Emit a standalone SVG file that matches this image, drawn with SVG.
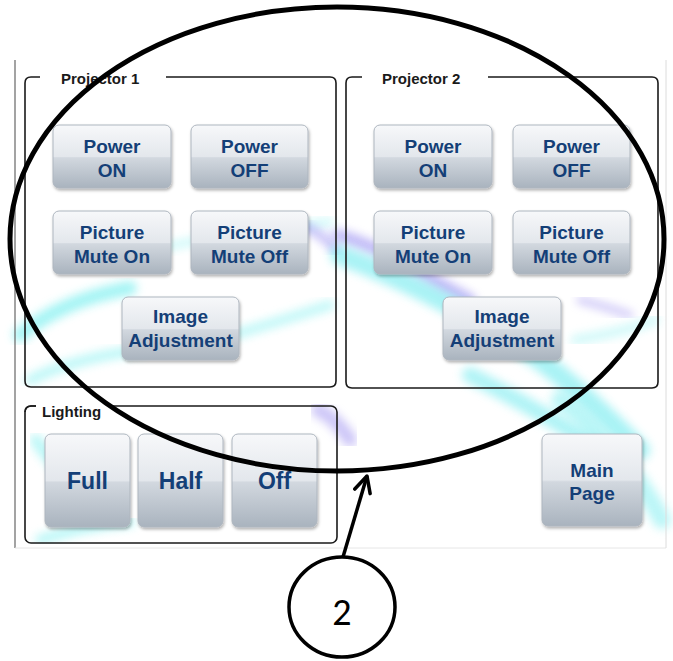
<svg xmlns="http://www.w3.org/2000/svg" width="673" height="661" viewBox="0 0 673 661">
<defs>
<linearGradient id="btn" x1="0" y1="0" x2="0" y2="1">
<stop offset="0" stop-color="#f7f8fa"/>
<stop offset="0.5" stop-color="#e3e7ec"/>
<stop offset="0.52" stop-color="#d2d8df"/>
<stop offset="1" stop-color="#a9b3be"/>
</linearGradient>
<filter id="blur" x="-20%" y="-20%" width="140%" height="140%"><feGaussianBlur stdDeviation="5"/></filter>
<filter id="sh" x="-10%" y="-10%" width="130%" height="130%"><feDropShadow dx="1" dy="2" stdDeviation="1.5" flood-color="#000" flood-opacity="0.3"/></filter>
<marker id="open" viewBox="0 0 20 20" refX="18" refY="10" markerWidth="20" markerHeight="20" markerUnits="userSpaceOnUse" orient="auto">
<path d="M2,2 L18,10 L2,18" fill="none" stroke="#000" stroke-width="3.5" stroke-linecap="round" stroke-linejoin="round"/>
</marker>
<style>
.panel{fill:none;stroke:#1a1a1a;stroke-width:1.6}
.b{fill:url(#btn);stroke:#aeb6bf;stroke-width:1;filter:url(#sh)}
.bt{font-family:"Liberation Sans",Arial,sans-serif;font-weight:bold;font-size:19px;fill:#143f77;text-anchor:middle}
.bl{font-size:23px}
.pt{font-family:"Liberation Sans",Arial,sans-serif;font-weight:bold;font-size:15px;fill:#1a1a1a}
.sw{fill:none;stroke-linecap:round;filter:url(#blur)}
</style>
</defs>
<rect width="673" height="661" fill="#fff"/>
<g id="background">
<path class="sw" d="M20,335 C50,310 90,295 130,288" stroke="#7ff0f0" stroke-width="14" opacity="0.7"/>
<path class="sw" d="M30,380 C60,365 100,355 140,350" stroke="#8ff2f2" stroke-width="10" opacity="0.6"/>
<path class="sw" d="M200,345 C250,330 290,318 330,305" stroke="#8ff2f2" stroke-width="10" opacity="0.55"/>
<path class="sw" d="M150,250 C220,235 280,228 330,222" stroke="#9ff4f4" stroke-width="8" opacity="0.5"/>
<path class="sw" d="M300,225 C315,230 328,240 336,250" stroke="#8a7ef0" stroke-width="9" opacity="0.5"/>
<path class="sw" d="M36,440 C45,455 55,465 65,475" stroke="#7ff0f0" stroke-width="12" opacity="0.55"/>
<path class="sw" d="M40,540 C70,530 100,525 130,522" stroke="#7ff0f0" stroke-width="10" opacity="0.55"/>
<path class="sw" d="M318,410 C330,415 340,425 350,440" stroke="#9a8cf0" stroke-width="14" opacity="0.5"/>
<path class="sw" d="M338,235 C390,250 430,280 470,300" stroke="#8a7ef0" stroke-width="12" opacity="0.55"/>
<path class="sw" d="M340,255 C420,285 480,320 540,360 C580,390 610,420 640,450" stroke="#7cecf0" stroke-width="20" opacity="0.65"/>
<path class="sw" d="M470,375 C520,400 570,430 610,455" stroke="#7cecf0" stroke-width="16" opacity="0.6"/>
<path class="sw" d="M560,400 C600,430 635,470 662,520" stroke="#8ef0f2" stroke-width="18" opacity="0.6"/>
<path class="sw" d="M580,300 C600,305 615,310 630,315" stroke="#9a8cf0" stroke-width="7" opacity="0.5"/>
<path class="sw" d="M575,340 C605,335 630,330 655,320" stroke="#9ef3f3" stroke-width="9" opacity="0.5"/>
</g>
<g id="frame">
<line x1="15" y1="60" x2="15" y2="548" stroke="#666" stroke-width="1.2"/>
<line x1="15" y1="548" x2="666" y2="548" stroke="#e6e6e6" stroke-width="1"/>
<line x1="666" y1="60" x2="666" y2="548" stroke="#dcdcdc" stroke-width="1"/>
</g>
<g id="projector1">
<path class="panel" d="M40,77 H31 Q25,77 25,83 V381 Q25,387 31,387 H330 Q336,387 336,381 V83 Q336,77 330,77 H166"/>
<text class="pt" x="61" y="84">Projector 1</text>
</g>
<g id="p1-power-on"><rect class="b" x="53" y="125" width="118" height="63" rx="6"/><text class="bt" x="112" y="153">Power</text><text class="bt" x="112" y="177">ON</text></g>
<g id="p1-power-off"><rect class="b" x="191" y="125" width="117" height="63" rx="6"/><text class="bt" x="249.5" y="153">Power</text><text class="bt" x="249.5" y="177">OFF</text></g>
<g id="p1-mute-on"><rect class="b" x="53" y="211" width="118" height="63" rx="6"/><text class="bt" x="112" y="239">Picture</text><text class="bt" x="112" y="263">Mute On</text></g>
<g id="p1-mute-off"><rect class="b" x="191" y="211" width="117" height="63" rx="6"/><text class="bt" x="249.5" y="239">Picture</text><text class="bt" x="249.5" y="263">Mute Off</text></g>
<g id="p1-image"><rect class="b" x="122" y="297" width="117" height="63" rx="6"/><text class="bt" x="180.5" y="323">Image</text><text class="bt" x="180.5" y="347">Adjustment</text></g>
<g id="projector2">
<path class="panel" d="M362,77 H352 Q346,77 346,83 V382 Q346,388 352,388 H652 Q658,388 658,382 V83 Q658,77 652,77 H488"/>
<text class="pt" x="382" y="84">Projector 2</text>
</g>
<g id="p2-power-on"><rect class="b" x="374" y="125" width="118" height="63" rx="6"/><text class="bt" x="433" y="153">Power</text><text class="bt" x="433" y="177">ON</text></g>
<g id="p2-power-off"><rect class="b" x="513" y="125" width="117" height="63" rx="6"/><text class="bt" x="571.5" y="153">Power</text><text class="bt" x="571.5" y="177">OFF</text></g>
<g id="p2-mute-on"><rect class="b" x="374" y="211" width="118" height="63" rx="6"/><text class="bt" x="433" y="239">Picture</text><text class="bt" x="433" y="263">Mute On</text></g>
<g id="p2-mute-off"><rect class="b" x="513" y="211" width="117" height="63" rx="6"/><text class="bt" x="571.5" y="239">Picture</text><text class="bt" x="571.5" y="263">Mute Off</text></g>
<g id="p2-image"><rect class="b" x="443" y="297" width="118" height="63" rx="6"/><text class="bt" x="502" y="323">Image</text><text class="bt" x="502" y="347">Adjustment</text></g>
<g id="lighting">
<rect class="panel" x="25" y="406" width="312" height="137" rx="6"/>
<rect x="36" y="399" width="76" height="26" rx="6" fill="#fff"/>
<path d="M36,406 H31 Q25,406 25,412" fill="none" stroke="#1a1a1a" stroke-width="1.6"/>
<text class="pt" x="42" y="417">Lighting</text>
</g>
<g id="light-full"><rect class="b" x="45" y="434" width="85" height="93" rx="6"/><text class="bt bl" x="87.5" y="489">Full</text></g>
<g id="light-half"><rect class="b" x="138" y="434" width="85" height="93" rx="6"/><text class="bt bl" x="180.5" y="489">Half</text></g>
<g id="light-off"><rect class="b" x="232" y="434" width="85" height="93" rx="6"/><text class="bt bl" x="274.5" y="489">Off</text></g>
<g id="main-page"><rect class="b" x="542" y="434" width="100" height="92" rx="6"/><text class="bt" x="592" y="477">Main</text><text class="bt" x="592" y="500">Page</text></g>
<g id="callout-ellipse"><ellipse cx="337" cy="239" rx="327" ry="232" fill="none" stroke="#000" stroke-width="5"/></g>
<g id="connectors"><line x1="343" y1="557" x2="367" y2="476" stroke="#000" stroke-width="3.5" marker-end="url(#open)"/></g>
<g id="callout-2">
<ellipse cx="342" cy="607" rx="53" ry="50" fill="#fff" stroke="#000" stroke-width="3.5"/>
<text x="342" y="625" font-family="Carlito,'Liberation Sans',Arial,sans-serif" font-size="38" text-anchor="middle" fill="#000">2</text>
</g>
</svg>
